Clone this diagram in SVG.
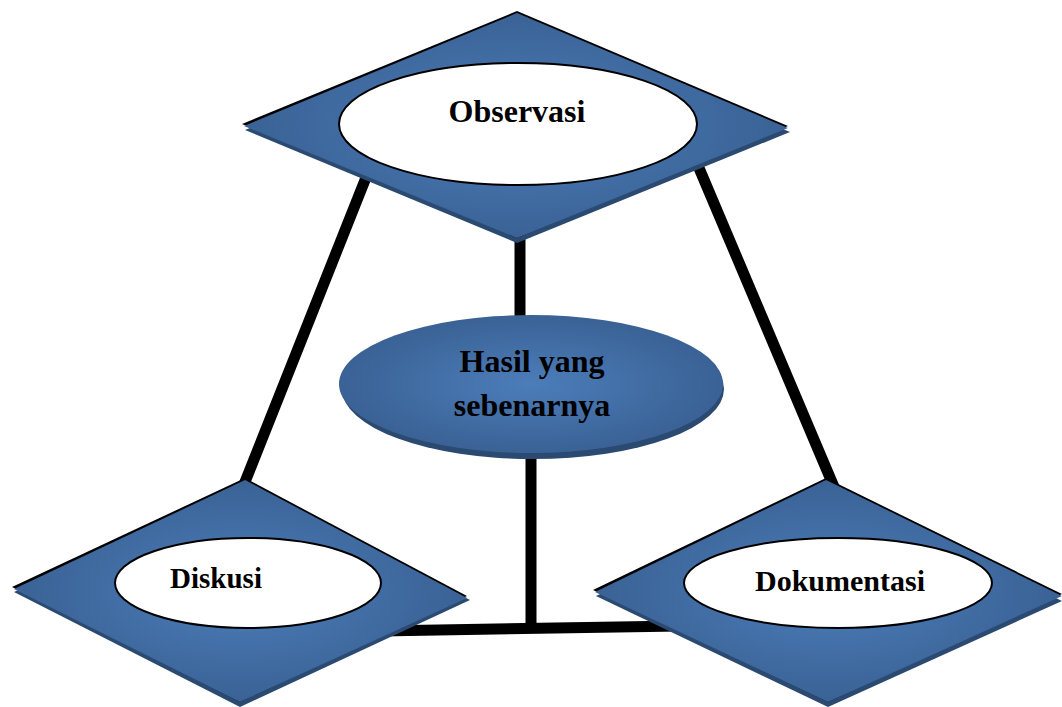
<svg xmlns="http://www.w3.org/2000/svg" width="1062" height="707" viewBox="0 0 1062 707">
<defs>
<radialGradient id="blue" cx="50%" cy="50%" r="55%">
<stop offset="0" stop-color="#4c7dba"/>
<stop offset="1" stop-color="#385f91"/>
</radialGradient>
<style>
.shadow{fill:#2b4a72}
.edge{fill:#000}
.face{fill:url(#blue)}
.inner{fill:#fff;stroke:#000;stroke-width:2}
.conn{stroke:#000;stroke-width:11;fill:none;stroke-linecap:butt}
.lbl{font-family:"Liberation Serif","Times New Roman",serif;font-weight:bold;fill:#000;text-anchor:middle}
</style>
</defs>
<rect width="1062" height="707" fill="#fff"/>
<g id="connectors">
<line class="conn" x1="367" y1="175" x2="243" y2="487"/>
<line class="conn" x1="699" y1="168" x2="834" y2="487"/>
<line class="conn" x1="520" y1="235" x2="520" y2="316"/>
<line class="conn" x1="531" y1="450" x2="531" y2="630"/>
<line class="conn" x1="380" y1="631" x2="680" y2="626"/>
</g>
<g id="node-observasi">
<polygon class="shadow" points="517,17 245,130 517,243 790,132"/>
<polygon class="edge" points="517,11 242,124 517,238 788,126"/>
<polygon class="face" points="517,13 244,126 517,238 788,128"/>
<ellipse class="inner" cx="518" cy="124" rx="179" ry="61"/>
<text class="lbl" x="517" y="122" font-size="32">Observasi</text>
</g>
<g id="node-hasil">
<ellipse class="shadow" cx="533" cy="389" rx="191" ry="70"/>
<ellipse class="face" cx="531" cy="384" rx="192" ry="69"/>
<text class="lbl" x="532" y="372" font-size="32">Hasil yang</text>
<text class="lbl" x="532" y="416" font-size="32">sebenarnya</text>
</g>
<g id="node-diskusi">
<polygon class="shadow" points="245,485 14,592 240,707 470,600"/>
<polygon class="edge" points="245,478 12,587 240,702 467,596"/>
<polygon class="face" points="245,480 14,589 240,702 467,598"/>
<ellipse class="inner" cx="248" cy="583" rx="133" ry="45"/>
<text class="lbl" x="216" y="588" font-size="29">Diskusi</text>
</g>
<g id="node-dokumentasi">
<polygon class="shadow" points="826,485 596,596 828,707 1062,601"/>
<polygon class="edge" points="826,478 593,590 828,702 1062,594"/>
<polygon class="face" points="826,480 595,592 828,702 1062,596"/>
<ellipse class="inner" cx="838" cy="583" rx="154" ry="45"/>
<text class="lbl" x="840" y="591" font-size="30">Dokumentasi</text>
</g>
</svg>
